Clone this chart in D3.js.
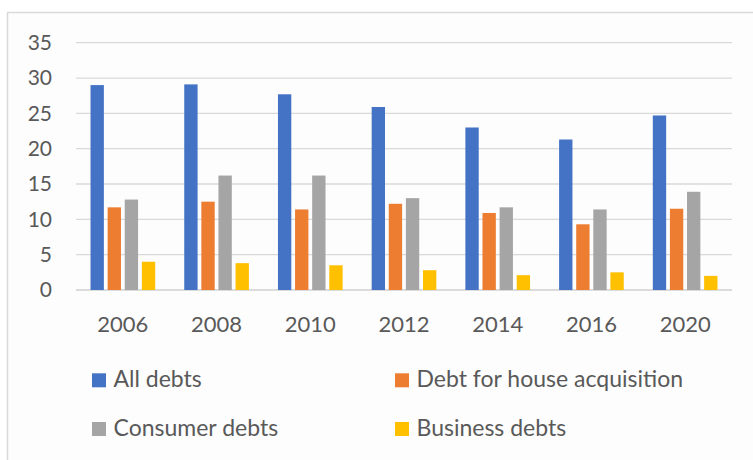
<!DOCTYPE html>
<html>
<head>
<meta charset="utf-8">
<script src="https://cdn.jsdelivr.net/npm/d3@7"></script>
<style>
  html, body { margin: 0; padding: 0; background: #ffffff; }
  svg { display: block; }
  text { font-family: Lato, "Open Sans", sans-serif; fill: #595959; }
</style>
</head>
<body>
<svg id="chart" width="753" height="460"></svg>
<script>
// Debt ratios by survey year
const years = ["2006", "2008", "2010", "2012", "2014", "2016", "2020"];
const seriesNames = ["All debts", "Debt for house acquisition", "Consumer debts", "Business debts"];
const allDebts      = [29.0, 29.1, 27.7, 25.9, 23.0, 21.3, 24.7];
const houseDebts    = [11.7, 12.5, 11.4, 12.2, 10.9, 9.3, 11.5];
const consumerDebts = [12.8, 16.2, 16.2, 13.0, 11.7, 11.4, 13.9];
const businessDebts = [4.0, 3.8, 3.5, 2.8, 2.1, 2.5, 2.0];
const yTicks = [0, 5, 10, 15, 20, 25, 30, 35];
const colors = ["#4472C4", "#ED7D31", "#A5A5A5", "#FFC000"];

const seriesValues = [allDebts, houseDebts, consumerDebts, businessDebts];

const svg = d3.select("#chart");

// chart area frame
svg.append("rect")
  .attr("x", 7.5).attr("y", 12.5)
  .attr("width", 800).attr("height", 500)
  .attr("fill", "#fdfdfd")
  .attr("stroke", "#d9d9d9")
  .attr("stroke-width", 1.5);

const plotLeft = 76, plotRight = 732, plotTop = 42.7, plotBottom = 290;

const x = d3.scaleBand().domain(years).range([plotLeft, plotRight]);
const groupW = x.bandwidth() * 0.69;
const groupOffset = (x.bandwidth() - groupW) / 2;
const xInner = d3.scaleBand().domain(seriesNames).range([0, groupW]).paddingInner(0.22);
const y = d3.scaleLinear().domain([0, 35]).range([plotBottom, plotTop]);

// gridlines
svg.append("g")
  .selectAll("line")
  .data(yTicks)
  .join("line")
  .attr("x1", plotLeft).attr("x2", plotRight)
  .attr("y1", d => y(d)).attr("y2", d => y(d))
  .attr("stroke", d => d === 0 ? "#cfcfcf" : "#d9d9d9")
  .attr("stroke-width", 1.3);

// y axis labels
const yAxis = d3.axisLeft(y).tickValues(yTicks).tickSize(0).tickPadding(0);
const gy = svg.append("g")
  .attr("transform", `translate(52,0)`)
  .call(yAxis);
gy.select(".domain").remove();
gy.selectAll("text")
  .attr("font-size", 21)
  .attr("fill", "#595959")
  .style("font-family", "Lato, sans-serif");

// x axis labels
const xAxis = d3.axisBottom(x).tickSize(0).tickPadding(0);
const gx = svg.append("g")
  .attr("transform", `translate(0,${plotBottom})`)
  .call(xAxis);
gx.select(".domain").remove();
gx.selectAll("text")
  .attr("dy", null)
  .attr("y", 42)
  .attr("font-size", 22)
  .attr("fill", "#595959")
  .style("font-family", "Lato, sans-serif");

// bars
const groups = svg.append("g")
  .selectAll("g")
  .data(years)
  .join("g")
  .attr("transform", d => `translate(${x(d) + groupOffset},0)`);

groups.selectAll("rect")
  .data((yr, i) => seriesNames.map((name, s) => ({ name, s, value: seriesValues[s][i] })))
  .join("rect")
  .attr("x", d => xInner(d.name))
  .attr("width", xInner.bandwidth())
  .attr("y", d => y(d.value))
  .attr("height", d => y(0) - y(d.value))
  .attr("fill", d => colors[d.s]);

// legend
const legendPos = [
  { x: 92, y: 387.3 },
  { x: 395, y: 387.3 },
  { x: 92, y: 436 },
  { x: 395, y: 436 }
];
const legend = svg.append("g")
  .selectAll("g")
  .data(seriesNames)
  .join("g")
  .attr("transform", (d, i) => `translate(${legendPos[i].x},${legendPos[i].y})`);

legend.append("rect")
  .attr("x", 0).attr("y", -14)
  .attr("width", 14).attr("height", 14)
  .attr("fill", (d, i) => colors[i]);

legend.append("text")
  .attr("x", 21.5).attr("y", 0)
  .attr("font-size", 23)
  .text(d => d);
</script>
</body>
</html>
